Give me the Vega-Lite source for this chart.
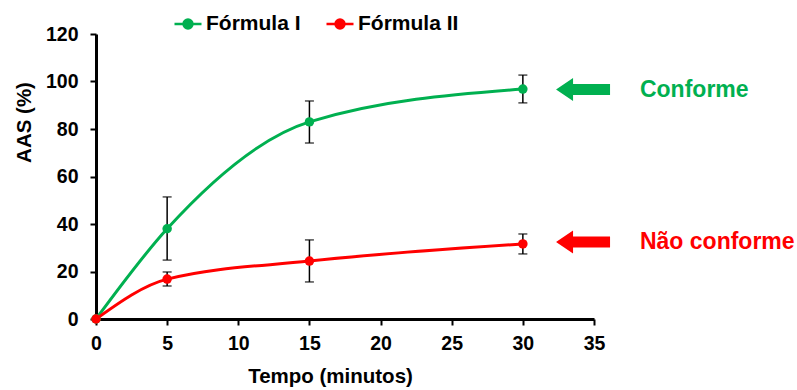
{
  "$schema": "https://vega.github.io/schema/vega-lite/v6.json",
  "width": 498,
  "height": 285,
  "autosize": {"type": "none"},
  "padding": {"left": 96, "top": 34, "right": 203, "bottom": 71},
  "background": "white",
  "config": {
    "view": {"stroke": null},
    "font": "Liberation Sans",
    "axis": {
      "domainColor": "black", "domainWidth": 3, "tickColor": "black", "tickWidth": 2, "tickSize": 6,
      "labelFont": "Liberation Sans", "labelFontWeight": "bold", "labelFontSize": 19.5, "labelColor": "black", "labelFlush": false,
      "titleFont": "Liberation Sans", "titleFontWeight": "bold", "titleFontSize": 20.5, "titleColor": "black",
      "grid": false
    }
  },
  "datasets": {
    "curves": [
      {"serie": "Fórmula I", "t": 0, "aas": 0, "lo": null, "hi": null},
      {"serie": "Fórmula I", "t": 5, "aas": 38, "lo": 24.8, "hi": 51.4},
      {"serie": "Fórmula I", "t": 15, "aas": 83, "lo": 74.1, "hi": 91.8},
      {"serie": "Fórmula I", "t": 30, "aas": 96.8, "lo": 91, "hi": 102.7},
      {"serie": "Fórmula II", "t": 0, "aas": 0, "lo": null, "hi": null},
      {"serie": "Fórmula II", "t": 5, "aas": 16.8, "lo": 13.9, "hi": 19.8},
      {"serie": "Fórmula II", "t": 15, "aas": 24.4, "lo": 15.6, "hi": 33.3},
      {"serie": "Fórmula II", "t": 30, "aas": 31.6, "lo": 27.4, "hi": 35.8}
    ],
    "notes": [
      {"serie": "Fórmula I", "ax": 34.23, "tx": 38.23, "y": 96.6, "label": "Conforme"},
      {"serie": "Fórmula II", "ax": 34.23, "tx": 38.23, "y": 32.4, "label": "Não conforme"}
    ]
  },
  "layer": [
    {
      "data": {"name": "curves"},
      "mark": {"type": "line", "interpolate": "monotone", "strokeWidth": 3},
      "encoding": {
        "x": {"field": "t", "type": "quantitative", "scale": {"domain": [0, 35], "nice": false},
              "axis": {"values": [0, 5, 10, 15, 20, 25, 30, 35], "title": "Tempo (minutos)", "labelPadding": 9, "titlePadding": 14, "titleX": 234}},
        "y": {"field": "aas", "type": "quantitative", "scale": {"domain": [0, 120], "nice": false},
              "axis": {"values": [0, 20, 40, 60, 80, 100, 120], "title": "AAS (%)", "labelPadding": 12, "titleY": 88, "titleX": -72, "titleBaseline": "middle", "titleAngle": -90, "titleAlign": "center"}},
        "color": {"field": "serie", "type": "nominal",
                  "scale": {"domain": ["Fórmula I", "Fórmula II"], "range": ["#00B050", "#FF0000"]},
                  "legend": {"title": null, "orient": "none", "direction": "horizontal", "legendX": 77, "legendY": -25,
                             "symbolType": "M-1,0H1M-0.33,0a0.33,0.33 0 1,0 0.66,0a0.33,0.33 0 1,0 -0.66,0",
                             "symbolSize": 729, "symbolStrokeWidth": 2.5, "labelFont": "Liberation Sans", "labelFontWeight": "bold",
                             "labelFontSize": 21, "labelColor": "black", "labelOffset": 3, "columnPadding": 20, "padding": 0,
                             "encode": {"symbols": {"update": {"fill": {"scale": "color", "field": "value"}, "stroke": {"scale": "color", "field": "value"}, "opacity": {"value": 1}}}}}}
      }
    },
    {
      "data": {"name": "curves"},
      "mark": {"type": "rule", "color": "black", "strokeWidth": 1.5},
      "encoding": {"x": {"field": "t", "type": "quantitative"}, "y": {"field": "lo", "type": "quantitative"}, "y2": {"field": "hi"}}
    },
    {
      "data": {"name": "curves"},
      "mark": {"type": "tick", "color": "black", "size": 9, "thickness": 1.5, "orient": "horizontal"},
      "encoding": {"x": {"field": "t", "type": "quantitative"}, "y": {"field": "lo", "type": "quantitative"}}
    },
    {
      "data": {"name": "curves"},
      "mark": {"type": "tick", "color": "black", "size": 9, "thickness": 1.5, "orient": "horizontal"},
      "encoding": {"x": {"field": "t", "type": "quantitative"}, "y": {"field": "hi", "type": "quantitative"}}
    },
    {
      "data": {"name": "curves"},
      "mark": {"type": "point", "filled": true, "size": 90, "opacity": 1},
      "encoding": {"x": {"field": "t", "type": "quantitative"}, "y": {"field": "aas", "type": "quantitative"},
                   "color": {"field": "serie", "type": "nominal", "legend": null}}
    },
    {
      "data": {"name": "notes"},
      "mark": {"type": "point", "filled": true, "opacity": 1, "size": 2916,
               "shape": "M-1,0L-0.37,-0.426L-0.37,-0.204L1,-0.204L1,0.204L-0.37,0.204L-0.37,0.426Z"},
      "encoding": {"x": {"field": "ax", "type": "quantitative"}, "y": {"field": "y", "type": "quantitative"},
                   "color": {"field": "serie", "type": "nominal", "legend": null}}
    },
    {
      "data": {"name": "notes"},
      "mark": {"type": "text", "align": "left", "baseline": "middle", "fontSize": 23, "fontWeight": "bold", "font": "Liberation Sans"},
      "encoding": {"x": {"field": "tx", "type": "quantitative"}, "y": {"field": "y", "type": "quantitative"},
                   "text": {"field": "label"},
                   "color": {"field": "serie", "type": "nominal", "legend": null}}
    }
  ]
}
